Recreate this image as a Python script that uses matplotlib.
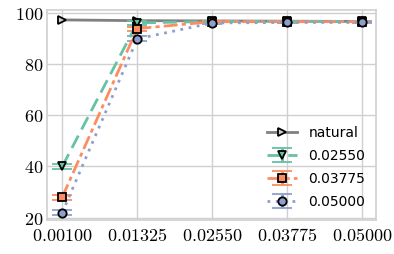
import numpy as np
import matplotlib
matplotlib.use("Agg")
import matplotlib.pyplot as plt

plt.rcParams['mathtext.fontset'] = 'cm'

x_labels = ['0.00100', '0.01325', '0.02550', '0.03775', '0.05000']
natural = [97.2, 96.9, 96.8, 96.7, 96.6]
s_02550 = [40.0, 96.0, 96.6, 96.6, 96.6]
s_03775 = [28.0, 93.8, 96.5, 96.5, 96.5]
s_05000 = [22.0, 89.8, 96.0, 96.2, 96.2]
err_02550 = [1.0, 0.6, 0.3, 0.3, 0.3]
err_03775 = [1.0, 0.8, 0.3, 0.3, 0.3]
err_05000 = [1.0, 1.0, 0.4, 0.3, 0.3]

fig, ax = plt.subplots(figsize=(3.94, 2.54), dpi=100)
fig.subplots_adjust(left=0.12, right=0.955, top=0.96, bottom=0.135)
x = np.arange(len(x_labels))

ax.plot(x, natural, color='#808080', lw=2, marker='>', ms=6,
        mfc='#d0d0d0', mec='black', mew=1.3, label='natural', zorder=3)
series = [
    (s_02550, err_02550, '#66c2a5', (0, (5, 2.5)), 'v', '0.02550'),
    (s_03775, err_03775, '#fc8d62', (0, (5, 1.5, 1.5, 1.5)), 's', '0.03775'),
    (s_05000, err_05000, '#8da0cb', (0, (1, 2)), 'o', '0.05000'),
]
for vals, err, col, ls, mk, lab in series:
    eb = ax.errorbar(x, vals, yerr=err, color=col, lw=2, ls=ls, marker=mk,
                     ms=6, mfc=col, mec='black', mew=1.3, capsize=7,
                     capthick=2.5, elinewidth=2, label=lab, zorder=4)
    eb[-1][0].set_linestyle('-')

ax.set_xticks(x)
ax.set_xticklabels(['$' + s + '$' for s in x_labels], fontsize=13)
ax.set_yticks([20, 40, 60, 80, 100])
ax.set_yticklabels(['$%d$' % v for v in [20, 40, 60, 80, 100]], fontsize=13)
ax.set_xlim(-0.2, 4.19)
ax.set_ylim(19.2, 101)
ax.grid(True, color='#d0d0d0', lw=1)
ax.set_axisbelow(True)
for sp in ax.spines.values():
    sp.set_color('#d0d0d0')
    sp.set_linewidth(1.2)
ax.tick_params(axis='y', length=0, pad=3)
ax.tick_params(axis='x', length=0, pad=5)
ax.legend(loc='lower right', frameon=False, fontsize=10, handlelength=2.2,
          labelspacing=0.65, borderaxespad=0.4)

fig.savefig('out.png', dpi=100)
